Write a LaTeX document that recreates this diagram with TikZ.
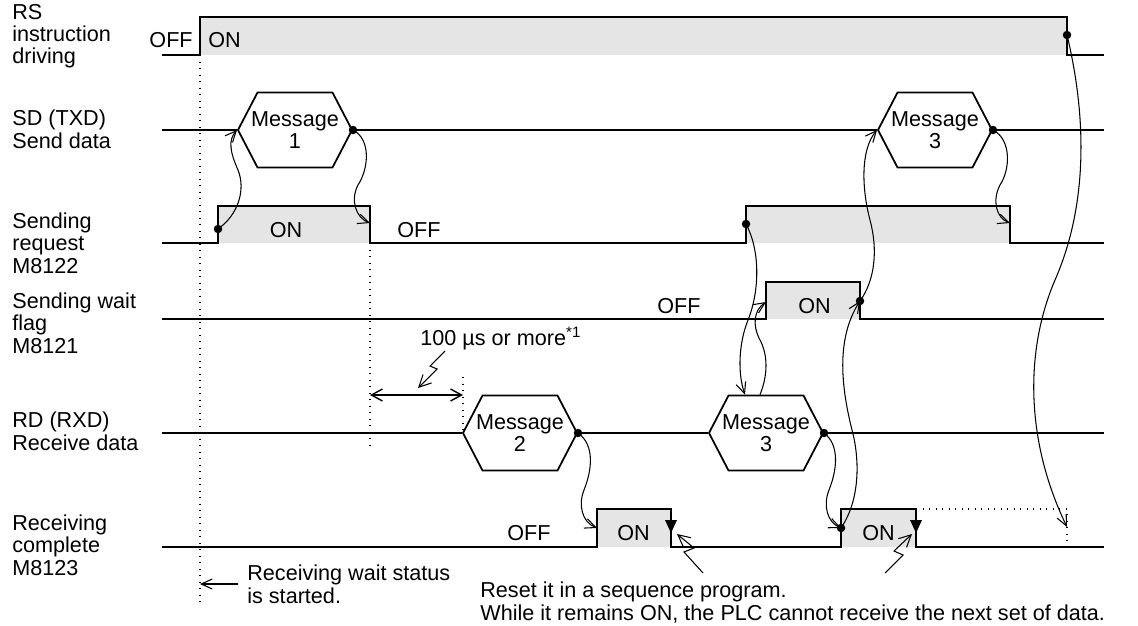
\documentclass[tikz,border=0pt]{standalone}
\usepackage{fontspec}
\setmainfont{Liberation Sans}
\usepackage{tikz}
\usetikzlibrary{shapes.symbols, arrows.meta}
\definecolor{cShade}{RGB}{229,229,229}
\tikzset{
	wave/.style ={line width=1.2pt, line join=miter},
	thinwave/.style={line width=0.6pt},
	msg/.style  ={signal, signal to=east and west, signal pointer angle=125, draw=black, line width=1pt,
	              fill=white, minimum width=2.28cm, minimum height=1.5cm, inner sep=0pt, align=center},
	lbl/.style  ={anchor=base west, align=left, inner sep=0pt},
	txt/.style  ={inner sep=0pt},
	guide/.style={line width=0.7pt, dash pattern=on 0.7pt off 3pt},
	link/.style ={line width=0.6pt, -{Straight Barb[length=2.2mm, width=2mm]}},
	zap/.style  ={line width=0.6pt, -{Straight Barb[length=2.4mm, width=2.4mm]}},
	span/.style ={line width=0.8pt, {Straight Barb[length=2.2mm, width=2.4mm]}-{Straight Barb[length=2.2mm, width=2.4mm]}},
	% reset marker on a falling edge
	resetmark/.style={fill=black},
}
\newcommand{\msgbody}[1]{\makebox[1.5cm]{Message}\\#1}

\begin{document}
\begin{tikzpicture}[x=0.02cm, y=-0.02cm, font=\fontsize{12.3}{12.8}\selectfont]
\useasboundingbox (0,0) rectangle (1138,625);

% signal names (anchored on their last line)
\node[lbl] (lRS) at (12,64)  {RS\\instruction\\driving};
\node[lbl] (lSD) at (12,148) {SD (TXD)\\Send data};
\node[lbl] (lRQ) at (12,273) {Sending\\request\\M8122};
\node[lbl] (lWF) at (12,353) {Sending wait\\flag\\M8121};
\node[lbl] (lRD) at (12,450) {RD (RXD)\\Receive data};
\node[lbl] (lRC) at (12,575) {Receiving\\complete\\M8123};

% edges used by the connectors
\coordinate (rsOff)  at (1067,35);
\coordinate (rqOn1)  at (218,229);
\coordinate (rqOff1) at (370,223);
\coordinate (rqOn2)  at (746,224);
\coordinate (rqOff2) at (1010,223);
\coordinate (wfOn)   at (766,302);
\coordinate (wfOff)  at (860,301);
\coordinate (rcOn1)  at (597,528);
\coordinate (rcOn2)  at (841,528);
\coordinate (rcEnd)  at (1067,527);
\coordinate (gapL)   at (370,395);
\coordinate (gapR)   at (463,395);

% ON intervals
\fill[cShade] (200,17) rectangle (1067,55);
\fill[cShade] (218,206) rectangle (370,243);
\fill[cShade] (746,206) rectangle (1010,243);
\fill[cShade] (766,282) rectangle (860,319);
\fill[cShade] (597,509) rectangle (671,547);
\fill[cShade] (841,509) rectangle (916,547);

% dotted guides
\draw[guide] (200,55) -- (200,602);
\draw[guide] (370,243) -- (370,445);
\draw[guide] (463,377) -- (463,433);
\draw[guide] (916,509) -- (1067,509) -- (1067,547);

% waveforms
\draw[wave] (162,55) -- (200,55) -- (200,17) -- (1067,17) -- (1067,55) -- (1104,55);
\draw[wave] (162,243) -- (218,243) -- (218,206) -- (370,206) -- (370,243) -- (746,243)
            -- (746,206) -- (1010,206) -- (1010,243) -- (1104,243);
\draw[wave] (162,319) -- (766,319) -- (766,282) -- (860,282) -- (860,319) -- (1104,319);
\draw[wave] (162,547) -- (597,547) -- (597,509) -- (671,509) -- (671,547) -- (841,547)
            -- (841,509) -- (916,509) -- (916,547) -- (1104,547);

% messages
\node[msg] (m1) at (295,130) {\msgbody{1}};
\node[msg] (m2) at (935,130) {\msgbody{3}};
\node[msg] (m3) at (520,433) {\msgbody{2}};
\node[msg] (m4) at (766,433) {\msgbody{3}};
\draw[wave] (162,130) -- (m1.west);
\draw[thinwave] (m1.east) -- (m2.west);
\draw[wave] (m2.east) -- (1104,130);
\draw[wave] (162,433) -- (m3.west);
\draw[wave] (m3.east) -- (m4.west);
\draw[wave] (m4.east) -- (1104,433);

% reset markers
\fill[resetmark] (665,520) -- (677,520) -- (671,533) -- cycle;
\fill[resetmark] (910,520) -- (922,520) -- (916,533) -- cycle;

% state texts
\node[txt, anchor=base east] (tRSoff) at (193,48) {OFF};
\node[txt, anchor=base west] (tRSon)  at (208,48) {ON};
\node[txt, anchor=base]      (tRQon)  at (286,237) {ON};
\node[txt, anchor=base west] (tRQoff) at (397,237) {OFF};
\node[txt, anchor=base west] (tWFoff) at (657,313) {OFF};
\node[txt, anchor=base west] (tWFon)  at (798,313) {ON};
\node[txt, anchor=base west] (tRCoff) at (507,540) {OFF};
\node[txt, anchor=base west] (tRCon1) at (617,540) {ON};
\node[txt, anchor=base west] (tRCon2) at (862,540) {ON};

% cause and effect
\draw[link] (rsOff) .. controls (1085,110) and (1090,200) .. (1055,280)
            .. controls (1025,350) and (1025,440) .. (rcEnd);
\draw[link] (rqOn1) .. controls (238,215) and (246,190) .. (238,170)
            .. controls (230,152) and (228,140) .. (m1.west);
\draw[link] (m1.east) .. controls (372,140) and (368,170) .. (358,185)
            .. controls (350,200) and (356,218) .. (rqOff1);
\draw[link] (rqOn2) .. controls (760,250) and (760,290) .. (748,320)
            .. controls (738,345) and (738,375) .. ([xshift=-0.42cm]m4.north);
\draw[link] ([xshift=-0.12cm]m4.north) .. controls (768,375) and (768,355) .. (760,340)
            .. controls (752,325) and (754,310) .. (wfOn);
\draw[link] (wfOff) .. controls (875,280) and (878,250) .. (870,220)
            .. controls (862,190) and (860,150) .. (m2.west);
\draw[link] (m2.east) .. controls (1012,140) and (1010,170) .. (1000,185)
            .. controls (992,200) and (996,218) .. (rqOff2);
\draw[link] (m3.east) .. controls (595,445) and (592,470) .. (584,490)
            .. controls (578,505) and (582,522) .. (rcOn1);
\draw[link] (m4.east) .. controls (840,445) and (837,470) .. (829,490)
            .. controls (823,505) and (827,522) .. (rcOn2);
\draw[link] (rcOn2) .. controls (860,500) and (860,460) .. (852,430)
            .. controls (842,390) and (835,340) .. (wfOff);

% dots
\foreach \p in {rsOff, rqOn1, rqOn2, wfOff, rcOn2, m1.east, m2.east, m3.east, m4.east}
	\fill (\p) circle[radius=0.085cm];

% notes
\draw[span] (gapL) -- (gapR);
\node[txt, anchor=base west] (tGap) at (420,345) {100 µs or more\textsuperscript{*1}};
\draw[zap] (445,351) -- ++(-15,15) -- ++(7,3) -- (418,388);

\node[lbl] (tWait) at (247,603) {Receiving wait status\\is started.};
\draw[link] (238,584) -- (200,584);

\node[lbl] (tReset) at (480,620) {Reset it in a sequence program.\\While it remains ON, the PLC cannot receive the next set of data.};
\draw[zap] (703,573) -- (684,552) -- (694,548) -- (677,534);
\draw[zap] (885,573) -- (903,555) -- (894,551) -- (912,534);
\end{tikzpicture}
\end{document}
